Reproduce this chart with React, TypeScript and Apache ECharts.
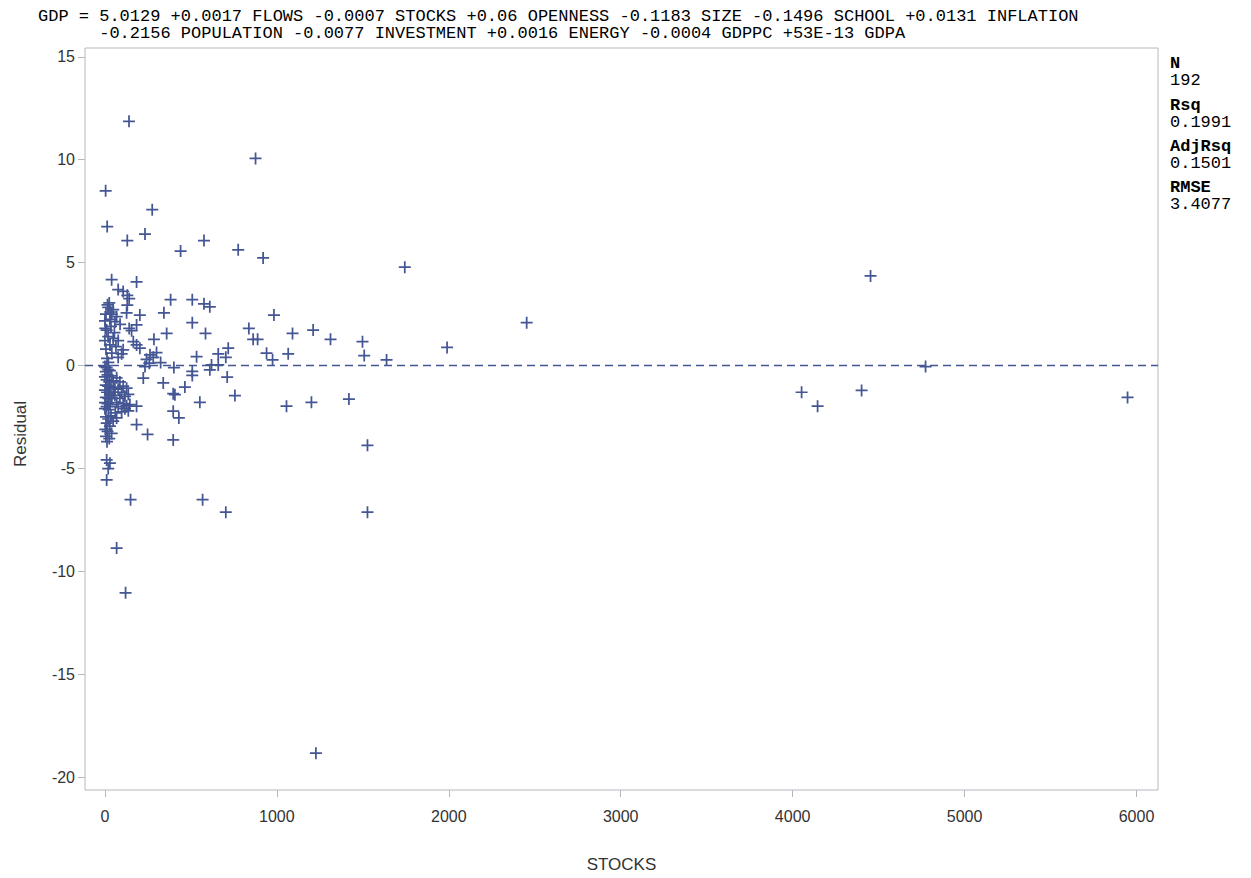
import React, { useEffect, useRef } from "react";
import * as echarts from "echarts";

// STOCKS values of the plotted observations
const stocks: number[] = [
  140, 876, 4, 275, 13, 130, 233, 440, 576, 775, 920, 1744, 4453, 39, 184, 77, 106, 130, 141, 130,
  382, 508, 576, 610, 983, 343, 203, 126, 508, 184, 141, 155, 837, 359, 585, 862, 888, 285, 1091, 1211,
  1312, 1498, 1508, 1638, 1990, 2453, 940, 975, 1066, 533, 659, 717, 703, 620, 659, 610, 711, 756, 552, 1056,
  1201, 1419, 1527, 568, 703, 1527, 1227, 4052, 4145, 4401, 4773, 5948, 149, 68, 120, 165, 184, 203, 300, 262,
  281, 242, 258, 324, 233, 401, 508, 508, 223, 339, 465, 397, 407, 184, 397, 430, 184, 248, 397, 10,
  29, 19, 10,
  // dense cluster, upper part
  25, 19, 48, 6, 39, 68, 29, 58, 0, 2, 10, 19, 48, 0, 77, 29, 64, 6, 106, 97,
  77, 15, 35, 55, 12, 40, 88, 20, 30,
  // dense cluster, lower part
  0, 10, 19, 5, 29, 15, 0, 39, 10, 25, 48, 5, 19, 35, 58, 0, 12, 29, 48, 5,
  20, 40, 0, 15, 30, 10, 0, 22,
  68, 87, 106, 126, 77, 97, 58, 116, 136, 145, 87, 68, 106, 126, 116, 97, 77, 136, 60,
  6, 19, 10, 29, 2, 15, 39, 6, 25, 12, 48, 35, 68,
];

// Residual values, same order as stocks
const residuals: number[] = [
  11.87, 10.06, 8.49, 7.57, 6.75, 6.07, 6.39, 5.56, 6.07, 5.62, 5.23, 4.78, 4.35, 4.17, 4.06, 3.69, 3.6, 3.41, 3.25, 2.93,
  3.2, 3.2, 3.0, 2.85, 2.45, 2.56, 2.45, 2.56, 2.08, 1.97, 1.8, 1.69, 1.8, 1.56, 1.56, 1.27, 1.27, 1.27, 1.56, 1.72,
  1.27, 1.16, 0.48, 0.27, 0.88, 2.08, 0.6, 0.27, 0.57, 0.43, 0.56, 0.84, 0.4, 0.03, 0.03, -0.21, -0.56, -1.46, -1.79, -1.98,
  -1.79, -1.63, -3.88, -6.52, -7.13, -7.13, -18.84, -1.3, -1.98, -1.21, -0.05, -1.55, -6.52, -8.87, -11.05, 1.16, 1.0, 0.84, 0.63, 0.52,
  0.4, 0.3, 0.11, 0.14, -0.05, -0.1, -0.29, -0.48, -0.61, -0.85, -1.05, -1.37, -1.42, -1.98, -2.22, -2.55, -2.87, -3.35, -3.62, -4.59,
  -4.75, -5.01, -5.56,
  3.04, 2.82, 2.72, 2.5, 2.5, 2.37, 2.24, 2.13, 2.17, 1.8, 1.72, 1.4, 1.32, 1.21, 1.21, 1.0, 0.92, 0.79, 0.76, 0.57,
  0.4, 2.95, 1.9, 1.6, 0.35, 0.6, 2.0, 0.15, 2.6,
  -0.05, -0.1, -0.2, -0.3, -0.25, -0.45, -0.55, -0.5, -0.7, -0.8, -0.75, -0.95, -1.0, -1.05, -1.1, -1.2, -1.3, -1.4, -1.3, -1.55,
  -1.6, -1.6, -1.8, -1.85, -1.9, -2.0, -2.1, -2.15,
  -0.6, -0.8, -1.0, -1.1, -1.15, -1.3, -1.45, -1.5, -1.4, -1.9, -1.6, -1.8, -1.85, -1.95, -2.1, -2.25, -2.0, -2.2, -2.3,
  -2.5, -2.6, -2.8, -2.95, -3.1, -3.2, -3.3, -3.45, -3.55, -3.7, -2.7, -2.45, -2.55,
];

const xTicks = [0, 1000, 2000, 3000, 4000, 5000, 6000];
const yTicks = [-20, -15, -10, -5, 0, 5, 10, 15];

const titleLine1 =
  "GDP = 5.0129 +0.0017 FLOWS -0.0007 STOCKS +0.06 OPENNESS -0.1183 SIZE -0.1496 SCHOOL +0.0131 INFLATION";
const titleLine2 =
  "      -0.2156 POPULATION -0.0077 INVESTMENT +0.0016 ENERGY -0.0004 GDPPC +53E-13 GDPA";

const statLabels = ["N", "Rsq", "AdjRsq", "RMSE"];
const statValues = ["192", "0.1991", "0.1501", "3.4077"];

const MARK = "#445694";
const PLUS = "path://M0,4.7H11V6.3H0Z M4.7,0H6.3V11H4.7Z";
const SANS = "'Liberation Sans', Arial, sans-serif";
const MONO = "'Liberation Mono', monospace";

export default function App() {
  const ref = useRef<HTMLDivElement>(null);

  useEffect(() => {
    document.body.style.margin = "0";
    if (!ref.current) return;
    const chart = echarts.init(ref.current, undefined, { renderer: "svg" });
    const pts = stocks.map((s, i) => [s, residuals[i]]);
    const statTop = [55, 97, 138, 179];
    const graphics: any[] = [
      {
        type: "text",
        left: 38,
        top: 8,
        style: { text: titleLine1, font: `17px ${MONO}`, lineHeight: 17, fill: "#000" },
      },
      {
        type: "text",
        left: 38,
        top: 25,
        style: { text: titleLine2, font: `17px ${MONO}`, lineHeight: 17, fill: "#000" },
      },
    ];
    statLabels.forEach((l, i) => {
      graphics.push({
        type: "text",
        left: 1170,
        top: statTop[i],
        style: { text: l, font: `bold 17px ${MONO}`, lineHeight: 17, fill: "#000" },
      });
      graphics.push({
        type: "text",
        left: 1170,
        top: statTop[i] + 17,
        style: { text: statValues[i], font: `17px ${MONO}`, lineHeight: 17, fill: "#000" },
      });
    });

    chart.setOption({
      animation: false,
      backgroundColor: "#fff",
      grid: {
        left: 85,
        right: 93,
        top: 48,
        bottom: 83,
        show: true,
        borderColor: "#b4b9be",
        borderWidth: 1,
        backgroundColor: "transparent",
      },
      xAxis: {
        type: "value",
        min: -116,
        max: 6125,
        name: "STOCKS",
        nameLocation: "middle",
        nameGap: 66,
        nameTextStyle: { fontFamily: SANS, fontSize: 17, color: "#333" },
        axisLine: { show: false, onZero: false },
        splitLine: { show: false },
        axisTick: { show: true, length: 7, customValues: xTicks, lineStyle: { color: "#b4b9be" } },
        axisLabel: {
          customValues: xTicks,
          margin: 18,
          formatter: (v: number) => String(v),
          fontFamily: SANS,
          fontSize: 16,
          color: "#333",
        },
      },
      yAxis: {
        type: "value",
        min: -20.63,
        max: 15.43,
        name: "Residual",
        nameLocation: "middle",
        nameGap: 56,
        nameTextStyle: { fontFamily: SANS, fontSize: 17, color: "#333", padding: [0, 30, 0, 0] },
        axisLine: { show: false, onZero: false },
        splitLine: { show: false },
        axisTick: { show: true, length: 7, customValues: yTicks, lineStyle: { color: "#b4b9be" } },
        axisLabel: {
          customValues: yTicks,
          margin: 10,
          formatter: (v: number) => String(v),
          fontFamily: SANS,
          fontSize: 16,
          color: "#333",
        },
      },
      graphic: graphics,
      series: [
        {
          type: "scatter",
          data: pts,
          symbol: PLUS,
          symbolSize: 12,
          itemStyle: { color: MARK, opacity: 1 },
          markLine: {
            silent: true,
            symbol: "none",
            label: { show: false },
            lineStyle: { color: MARK, type: [8, 5], width: 1.4 },
            data: [{ yAxis: 0 }],
          },
        },
      ],
    });
    return () => chart.dispose();
  }, []);

  return <div ref={ref} style={{ width: 1251, height: 878 }} />;
}
